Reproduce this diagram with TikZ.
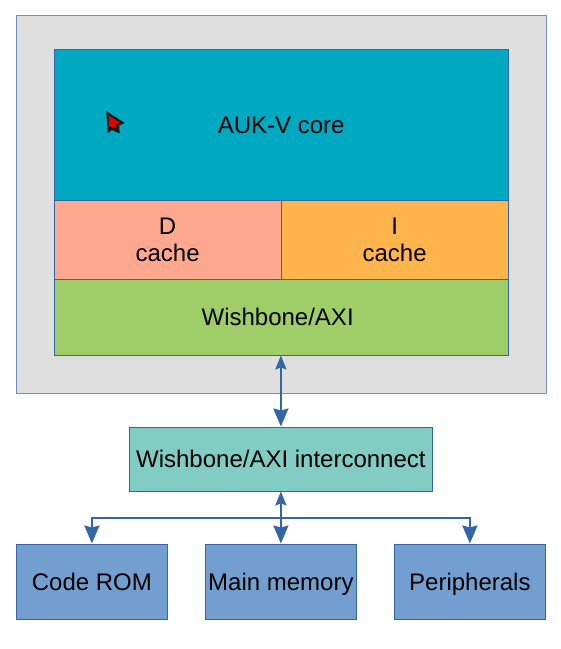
\documentclass[tikz,border=0pt]{standalone}
\usepackage{fontspec}
\setmainfont{Liberation Sans}
\usetikzlibrary{arrows.meta,calc}
\definecolor{edgeblue}{HTML}{3465A4}
\definecolor{frameblue}{HTML}{6F8FBF}
\definecolor{outerfill}{HTML}{DFDFDF}
\definecolor{corefill}{HTML}{00A9C2}
\definecolor{dfill}{HTML}{FFA890}
\definecolor{ifill}{HTML}{FFB44C}
\definecolor{busfill}{HTML}{9FCE68}
\definecolor{interfill}{HTML}{81CCC3}
\definecolor{memfill}{HTML}{729FCF}
\tikzset{
  x=1pt,y=-1pt,
  block/.style={draw=edgeblue,line width=0.9pt,minimum width=#1,inner sep=0pt,align=center,font=\fontsize{24}{27}\selectfont,anchor=north west},
  single/.style={text height=17pt,text depth=0pt},
  conn/.style={draw=edgeblue,line width=2.2pt},
  bigtip/.style={-{Stealth[length=18pt,width=15pt,inset=2pt]}},
  smalltip/.style={-{Stealth[length=14pt,width=11pt,inset=2pt]}},
}
\begin{document}
\begin{tikzpicture}
\useasboundingbox (0.8,1) rectangle (561.8,650);
\node[block=530pt,minimum height=378pt,fill=outerfill,draw=frameblue] (outer) at (16.5,15.5) {};
\node[block=454pt,minimum height=152pt,fill=corefill] (core) at (54.5,49.5) {AUK-V core};
\node[block=227pt,minimum height=79pt,fill=dfill] (dcache) at (54.5,201) {\raisebox{1pt}{\shortstack{D\\[7pt]cache}}};
\node[block=227pt,minimum height=79pt,fill=ifill] (icache) at (281.5,201) {\raisebox{1pt}{\shortstack{I\\[7pt]cache}}};
\node[block=454pt,minimum height=75.5pt,fill=busfill] (bus) at (54.5,280) {\hspace*{-7pt}Wishbone/AXI};
\node[block=302.5pt,minimum height=64pt,fill=interfill,single] (inter) at (130,427.5) {Wishbone/AXI interconnect};
\node[block=151.5pt,minimum height=75.5pt,fill=memfill,single] (rom) at (16.5,544.5) {Code ROM};
\node[block=151.5pt,minimum height=75.5pt,fill=memfill,single] (ram) at (205.5,544.5) {Main memory};
\node[block=151.5pt,minimum height=75.5pt,fill=memfill,single] (periph) at (394.5,544.5) {Peripherals};
\coordinate (junction) at (inter.south |- 0,518.7);
\coordinate (midlink) at ($(inter.north)+(0,-36)$);
\coordinate (bustop) at (bus.south -| inter.north);
% cursor
\fill[black!90] (107,112) -- (125.5,124) -- (120,126.5) -- (120.5,134.5) -- (112.5,131) -- (108.5,134.5) -- cycle;
\fill[red!90!black] (109.5,116.5) -- (120.5,123.5) -- (116,126) -- (116.5,129.5) -- (110,127) -- cycle;
% connectors
\draw[conn,smalltip] (junction) -- (inter.south);
\draw[conn,smalltip] (midlink) -- (bustop);
\draw[conn,bigtip] (midlink) -- (inter.north);
\draw[conn,bigtip] (junction) -- (ram.north);
\draw[conn,bigtip] (junction) -| (rom.north);
\draw[conn,bigtip] (junction) -| (periph.north);
\end{tikzpicture}
\end{document}
